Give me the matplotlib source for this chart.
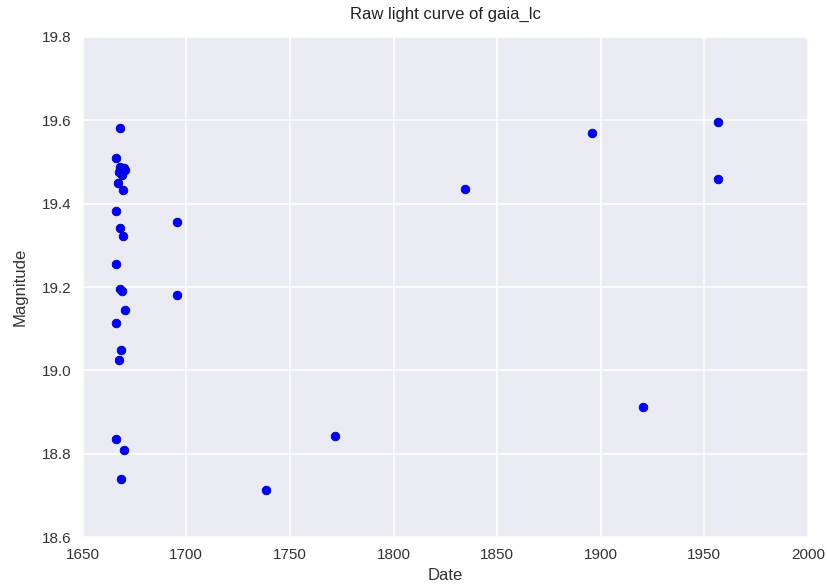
import numpy as np
import matplotlib.pyplot as plt

# Gaia light curve values
date = [1667.9, 1666.2, 1668.0, 1670.0, 1667.5, 1669.0, 1670.5, 1667.0, 1669.5,
        1666.3, 1668.0, 1669.5, 1666.3, 1668.0, 1669.0, 1670.3, 1666.3, 1668.6,
        1667.5, 1666.3, 1669.8, 1668.7,
        1695.4, 1695.4, 1738.4, 1771.7, 1834.5, 1895.9, 1920.5, 1956.8, 1956.8]
mag = [19.582, 19.509, 19.488, 19.486, 19.475, 19.468, 19.480, 19.450, 19.434,
       19.383, 19.342, 19.323, 19.256, 19.196, 19.191, 19.146, 19.114, 19.048,
       19.024, 18.836, 18.808, 18.739,
       19.357, 19.180, 18.713, 18.842, 19.436, 19.570, 18.911, 19.596, 19.460]

plt.rcParams['font.family'] = ['Liberation Sans', 'DejaVu Sans']

fig = plt.figure(figsize=(8.27, 5.87), dpi=100)
ax = fig.add_axes([0.100, 0.085, 0.877, 0.852])
ax.set_facecolor('#EAEAF2')
for s in ax.spines.values():
    s.set_visible(False)
ax.grid(True, color='white', linewidth=1.1)
ax.set_axisbelow(True)

ax.plot(date, mag, 'o', color='#0000ff', markeredgecolor='#0000aa',
        markeredgewidth=0.6, markersize=6.2)

ax.set_xlim(1650, 2000)
ax.set_ylim(18.6, 19.8)
ax.set_xticks(np.arange(1650, 2001, 50))
ax.set_yticks(np.arange(18.6, 19.81, 0.2))
ax.set_yticklabels(['18.6', '18.8', '19.0', '19.2', '19.4', '19.6', '19.8'])
ax.tick_params(length=0, labelsize=11, labelcolor='#333333', pad=8)

ax.set_xlabel('Date', fontsize=12, color='#333333')
ax.set_ylabel('Magnitude', fontsize=12, color='#333333', labelpad=10)
ax.set_title('Raw light curve of gaia_lc', fontsize=12, color='#222222', pad=13)

fig.savefig('out.png', dpi=100)
